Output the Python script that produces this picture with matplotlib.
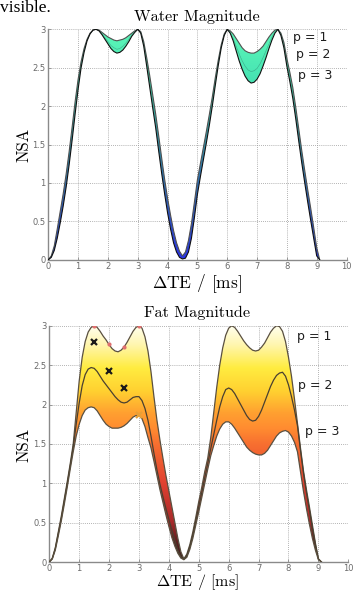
import numpy as np
import matplotlib
matplotlib.use("Agg")
import matplotlib.pyplot as plt
from matplotlib.colors import LinearSegmentedColormap

plt.rcParams['mathtext.fontset'] = 'cm'

# ---------------- data ----------------
dte = [round(0.1 * i, 1) for i in range(92)]   # Delta TE sampling grid [ms], 0.0 .. 9.1

water_p1 = [
    0.00, 0.05, 0.18, 0.40, 0.63, 0.86, 1.12, 1.41, 1.73, 2.06,
    2.35, 2.58, 2.75, 2.87, 2.95, 2.99, 3.00, 2.99, 2.96, 2.93,
    2.90, 2.88, 2.86, 2.85, 2.86, 2.87, 2.89, 2.92, 2.95, 2.98,
    3.00, 2.97, 2.84, 2.63, 2.40, 2.15, 1.90, 1.62, 1.33, 1.05,
    0.80, 0.58, 0.38, 0.22, 0.11, 0.05, 0.10, 0.25, 0.47, 0.75,
    1.04, 1.25, 1.46, 1.67, 1.89, 2.12, 2.37, 2.60, 2.80, 2.94,
    3.00, 2.98, 2.94, 2.88, 2.82, 2.76, 2.72, 2.70, 2.69, 2.69,
    2.71, 2.74, 2.78, 2.84, 2.90, 2.95, 2.99, 3.00, 2.95, 2.83,
    2.62, 2.44, 2.24, 1.98, 1.70, 1.42, 1.16, 0.91, 0.67, 0.42,
    0.16, 0.00]

water_p2 = [
    0.00, 0.04, 0.15, 0.34, 0.56, 0.78, 1.04, 1.33, 1.65, 1.98,
    2.29, 2.54, 2.73, 2.86, 2.94, 2.99, 3.00, 2.98, 2.94, 2.89,
    2.84, 2.79, 2.76, 2.74, 2.75, 2.78, 2.82, 2.87, 2.93, 2.97,
    3.00, 2.96, 2.81, 2.58, 2.33, 2.07, 1.81, 1.52, 1.23, 0.96,
    0.71, 0.49, 0.30, 0.16, 0.07, 0.03, 0.06, 0.18, 0.38, 0.65,
    0.95, 1.17, 1.38, 1.60, 1.82, 2.06, 2.32, 2.57, 2.78, 2.93,
    3.00, 2.96, 2.88, 2.78, 2.68, 2.59, 2.52, 2.47, 2.45, 2.46,
    2.49, 2.55, 2.63, 2.72, 2.81, 2.90, 2.97, 3.00, 2.94, 2.80,
    2.57, 2.38, 2.17, 1.91, 1.62, 1.34, 1.08, 0.83, 0.59, 0.35,
    0.10, 0.00]

water_p3 = [
    0.00, 0.03, 0.12, 0.28, 0.48, 0.70, 0.95, 1.24, 1.56, 1.90,
    2.22, 2.50, 2.70, 2.85, 2.94, 2.99, 3.00, 2.98, 2.93, 2.87,
    2.81, 2.75, 2.71, 2.69, 2.70, 2.73, 2.78, 2.84, 2.91, 2.96,
    3.00, 2.95, 2.78, 2.52, 2.25, 1.98, 1.72, 1.42, 1.13, 0.86,
    0.61, 0.40, 0.22, 0.10, 0.03, 0.01, 0.02, 0.10, 0.28, 0.55,
    0.85, 1.08, 1.30, 1.52, 1.75, 2.00, 2.27, 2.53, 2.76, 2.92,
    3.00, 2.95, 2.85, 2.72, 2.59, 2.48, 2.39, 2.33, 2.30, 2.31,
    2.35, 2.42, 2.52, 2.63, 2.75, 2.86, 2.95, 3.00, 2.92, 2.76,
    2.52, 2.32, 2.10, 1.83, 1.54, 1.26, 1.00, 0.75, 0.51, 0.28,
    0.05, 0.00]

fat_p1 = [
    0.00, 0.05, 0.18, 0.38, 0.58, 0.80, 1.02, 1.25, 1.50, 1.90,
    2.30, 2.60, 2.80, 2.92, 2.98, 3.00, 2.98, 2.93, 2.87, 2.82,
    2.76, 2.71, 2.68, 2.67, 2.69, 2.73, 2.79, 2.86, 2.93, 2.98,
    3.00, 2.97, 2.86, 2.68, 2.42, 2.10, 1.80, 1.55, 1.32, 1.10,
    0.90, 0.70, 0.50, 0.30, 0.13, 0.04, 0.10, 0.22, 0.38, 0.57,
    0.77, 0.95, 1.15, 1.32, 1.58, 1.90, 2.22, 2.50, 2.72, 2.88,
    2.97, 3.00, 2.98, 2.93, 2.87, 2.81, 2.76, 2.72, 2.69, 2.68,
    2.69, 2.73, 2.78, 2.85, 2.92, 2.97, 3.00, 2.99, 2.93, 2.80,
    2.60, 2.36, 2.07, 1.76, 1.45, 1.16, 0.92, 0.70, 0.47, 0.24,
    0.04, 0.00]

fat_p2 = [
    0.00, 0.04, 0.17, 0.36, 0.55, 0.77, 0.99, 1.22, 1.46, 1.75,
    2.02, 2.24, 2.38, 2.45, 2.47, 2.46, 2.42, 2.36, 2.30, 2.25,
    2.20, 2.15, 2.10, 2.06, 2.03, 2.02, 2.03, 2.06, 2.09, 2.10,
    2.10, 2.05, 1.95, 1.80, 1.60, 1.38, 1.17, 0.99, 0.83, 0.68,
    0.54, 0.40, 0.27, 0.15, 0.07, 0.03, 0.08, 0.19, 0.34, 0.52,
    0.70, 0.88, 1.07, 1.25, 1.44, 1.62, 1.80, 1.97, 2.10, 2.19,
    2.21, 2.19, 2.14, 2.07, 2.00, 1.93, 1.86, 1.81, 1.79, 1.80,
    1.85, 1.93, 2.03, 2.13, 2.23, 2.31, 2.37, 2.40, 2.41, 2.36,
    2.25, 2.10, 1.93, 1.73, 1.42, 1.13, 0.88, 0.66, 0.43, 0.22,
    0.04, 0.00]

fat_p3 = [
    0.00, 0.04, 0.15, 0.33, 0.52, 0.73, 0.95, 1.18, 1.40, 1.60,
    1.75, 1.86, 1.93, 1.96, 1.97, 1.96, 1.92, 1.86, 1.80, 1.75,
    1.72, 1.70, 1.70, 1.70, 1.71, 1.73, 1.76, 1.80, 1.84, 1.86,
    1.86, 1.82, 1.72, 1.58, 1.45, 1.28, 1.10, 0.92, 0.76, 0.60,
    0.45, 0.31, 0.20, 0.11, 0.05, 0.03, 0.06, 0.16, 0.30, 0.47,
    0.64, 0.82, 1.00, 1.18, 1.35, 1.48, 1.60, 1.69, 1.75, 1.78,
    1.78, 1.75, 1.70, 1.64, 1.58, 1.52, 1.46, 1.42, 1.39, 1.37,
    1.36, 1.36, 1.38, 1.42, 1.48, 1.54, 1.60, 1.64, 1.66, 1.67,
    1.65, 1.60, 1.52, 1.40, 1.15, 0.90, 0.68, 0.48, 0.30, 0.15,
    0.03, 0.00]

# sampled estimates marked on the fat panel
cross_te = [1.5, 2.0, 2.5]
cross_nsa = [2.79, 2.43, 2.21]
cross2_te = [3.0]
cross2_nsa = [1.87]
dot_te = [1.5, 2.0, 2.5, 3.0]
dot_nsa = [3.0, 2.77, 2.73, 3.0]

p_labels = ['p = 1', 'p = 2', 'p = 3']
water_label_pos = [(8.21, 2.89), (8.31, 2.67), (8.38, 2.40)]
fat_label_pos = [(8.27, 2.86), (8.33, 2.24), (8.55, 1.66)]

xticks = [0, 1, 2, 3, 4, 5, 6, 7, 8, 9, 10]
yticks = [0, 0.5, 1, 1.5, 2, 2.5, 3]
ytick_labels = ['0', '0.5', '1', '1.5', '2', '2.5', '3']

# ---------------- figure ----------------
W, H = 364, 593
fig = plt.figure(figsize=(W / 100, H / 100), dpi=100)

ax1 = fig.add_axes([48.3 / W, 1 - 259.7 / H, 298.2 / W, 230.4 / H])
ax2 = fig.add_axes([49.3 / W, 1 - 562.0 / H, 299.0 / W, 236.2 / H])

water_cmap = LinearSegmentedColormap.from_list('water', [
    (0.00, '#2a2cff'), (0.20, '#3050e0'), (0.45, '#3490c4'),
    (0.75, '#44e0b2'), (1.00, '#5cf8b8')])
fat_cmap = LinearSegmentedColormap.from_list('fat', [
    (0.00, '#3a1616'), (0.08, '#5a2020'), (0.17, '#a82a2a'),
    (0.33, '#e04030'), (0.50, '#f87030'), (0.56, '#ff8a30'),
    (0.63, '#ffa030'), (0.72, '#ffd030'), (0.82, '#ffec40'),
    (0.92, '#fff6b0'), (1.00, '#fffff0')])


def gradient_band(ax, x, top, bottom, cmap):
    poly = ax.fill_between(x, bottom, top, facecolor='none', edgecolor='none')
    path = poly.get_paths()[0]
    grad = np.linspace(0, 1, 256).reshape(-1, 1)
    im = ax.imshow(grad, extent=[0, 10, 0, 3], origin='lower', aspect='auto',
                   cmap=cmap, vmin=0, vmax=1, zorder=2, interpolation='bilinear')
    im.set_clip_path(path, transform=ax.transData)


def style(ax):
    ax.set_xlim(0, 10)
    ax.set_ylim(0, 3)
    ax.set_xticks(xticks)
    ax.set_yticks(yticks)
    ax.set_yticklabels(ytick_labels)
    ax.set_axisbelow(True)
    ax.grid(True, linestyle=(0, (1, 1.5)), color='#9a9a9a', linewidth=0.6)
    for s in ['top', 'right']:
        ax.spines[s].set_visible(False)
    for s in ['left', 'bottom']:
        ax.spines[s].set_color('#8a8a8a')
        ax.spines[s].set_linewidth(1.0)
    ax.tick_params(direction='in', length=2.5, width=0.6, color='#8a8a8a',
                   labelsize=6, labelcolor='#6a6a6a', pad=2)
    ax.tick_params(axis='x', pad=1.5)


# water panel
gradient_band(ax1, dte, water_p1, water_p3, water_cmap)
ax1.plot(dte, water_p1, color='#505050', lw=0.8, zorder=3)
ax1.plot(dte, water_p2, color='#2a6a60', lw=0.4, alpha=0.5, zorder=3)
ax1.plot(dte, water_p3, color='#111111', lw=0.8, zorder=3)
style(ax1)
for lab, (px, py) in zip(p_labels, water_label_pos):
    ax1.text(px, py, lab, fontsize=9, color='#1e1e1e', va='center', ha='left',
             family='DejaVu Sans', zorder=5)

# fat panel
gradient_band(ax2, dte, fat_p1, fat_p3, fat_cmap)
ax2.plot(dte, fat_p1, color='#5a5040', lw=0.9, zorder=3)
ax2.plot(dte, fat_p2, color='#4a4030', lw=0.9, zorder=3)
ax2.plot(dte, fat_p3, color='#5a5040', lw=0.9, zorder=3)
ax2.plot(dot_te, dot_nsa, linestyle='none', marker='o', markersize=2,
         color='#e07070', zorder=4)
ax2.plot(cross_te, cross_nsa, linestyle='none', marker='x', markersize=5,
         mew=1.6, color='#1a1a1a', zorder=4)
ax2.plot(cross2_te, cross2_nsa, linestyle='none', marker='x', markersize=5,
         mew=1.6, color='#e8a038', zorder=4)
style(ax2)
for lab, (px, py) in zip(p_labels, fat_label_pos):
    ax2.text(px, py, lab, fontsize=9, color='#1e1e1e', va='center', ha='left',
             family='DejaVu Sans', zorder=5)

# texts
serif = 'cmr10'
fig.text(0.0, 1 - 12.5 / H, 'visible.', family='Liberation Serif', fontsize=12.5,
         va='baseline', ha='left')
fig.text(197 / W, 1 - 16.5 / H, 'Water Magnitude', family=serif, fontsize=11.7,
         ha='center', va='center')
fig.text(197.5 / W, 1 - 313 / H, 'Fat Magnitude', family=serif, fontsize=11.7,
         ha='center', va='center')
fig.text(197.5 / W, 1 - 288.5 / H, r'$\mathbf{\Delta}$TE / [ms]', family=serif,
         fontsize=12.5, ha='center', va='baseline')
fig.text(197.5 / W, 1.0 / H, r'$\mathbf{\Delta}$TE / [ms]', family=serif,
         fontsize=11.5, ha='center', va='bottom')
fig.text(24 / W, 1 - 145 / H, 'NSA', family=serif, fontsize=12, rotation=90,
         ha='center', va='center', fontweight='bold')
fig.text(24 / W, 1 - 445 / H, 'NSA', family=serif, fontsize=12, rotation=90,
         ha='center', va='center', fontweight='bold')

fig.savefig('out.png', dpi=100)
